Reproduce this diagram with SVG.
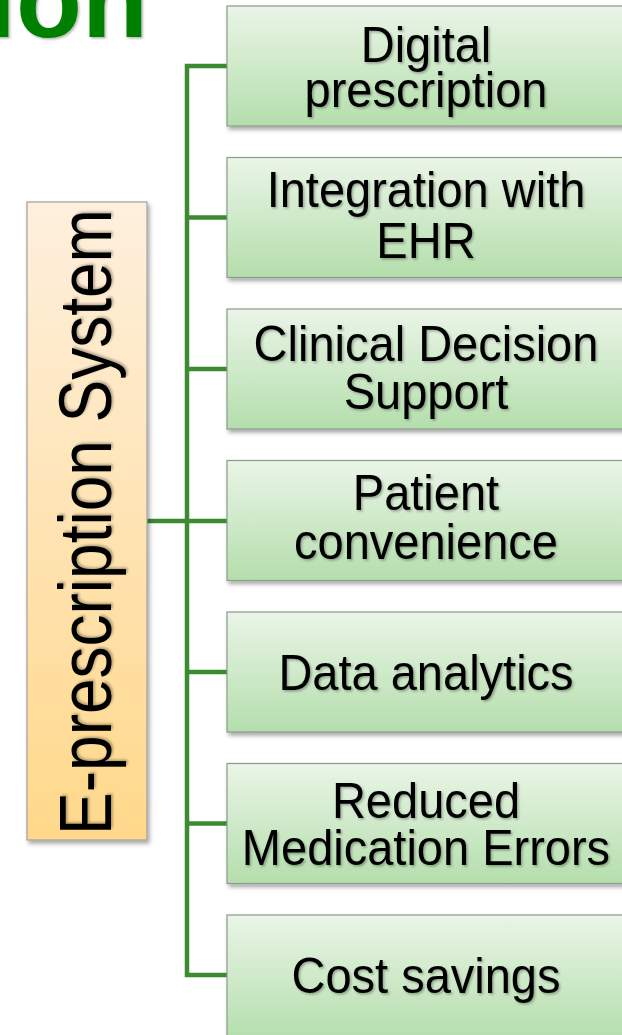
<svg xmlns="http://www.w3.org/2000/svg" width="622" height="1035" viewBox="0 0 622 1035">
<defs>
<linearGradient id="gG" x1="0" y1="0" x2="0" y2="1">
<stop offset="0" stop-color="#EAF5E7"/>
<stop offset="1" stop-color="#B4DEAC"/>
</linearGradient>
<linearGradient id="gO" x1="0" y1="0" x2="0" y2="1">
<stop offset="0" stop-color="#FEF0DE"/>
<stop offset="1" stop-color="#FFD88A"/>
</linearGradient>
<filter id="sh" x="-10%" y="-10%" width="130%" height="130%">
<feDropShadow dx="2" dy="3" stdDeviation="2" flood-color="#000" flood-opacity="0.35"/>
</filter>
<filter id="ts" x="-5%" y="-20%" width="110%" height="150%">
<feDropShadow dx="1.5" dy="1.5" stdDeviation="1" flood-color="#000" flood-opacity="0.3"/>
</filter>
</defs>
<style>
.box{fill:url(#gG);stroke:#8C9A8A;stroke-width:1.2}
.lbl{font-family:"Liberation Sans",Arial,sans-serif;font-size:47px;fill:#000;text-anchor:middle}
.con{fill:none;stroke:#3C8A32;stroke-width:4.5}
</style>
<rect width="622" height="1035" fill="#fff"/>
<g id="title">
<text x="148" y="37" font-family="Liberation Sans,Arial,sans-serif" font-weight="bold" font-size="108" fill="#008000" text-anchor="end" filter="url(#ts)">ion</text>
</g>
<g id="connectors">
<path class="con" d="M147,521 H187 M227,66 H187 V975 H227 M187,217.5 H227 M187,369 H227 M187,521 H227 M187,672 H227 M187,823.5 H227"/>
</g>
<g id="root">
<rect x="27" y="202" width="120" height="638" fill="url(#gO)" stroke="#A0A0A0" stroke-width="1.2" filter="url(#sh)"/>
<g transform="translate(111,522) rotate(-90) scale(1,1.15)">
<text x="0" y="0" font-family="Liberation Sans,Arial,sans-serif" font-size="64" text-anchor="middle" fill="#000" filter="url(#ts)">E-prescription System</text>
</g>
</g>
<g id="n1">
<rect class="box" x="227" y="6" width="410" height="120" filter="url(#sh)"/>
<g transform="translate(0,66) scale(1,1.06) translate(0,-66)">
<text class="lbl" filter="url(#ts)"><tspan x="426" y="62">Digital</tspan><tspan x="426" y="105">prescription</tspan></text>
</g>
</g>
<g id="n2">
<rect class="box" x="227" y="157.5" width="410" height="120" filter="url(#sh)"/>
<g transform="translate(0,217.5) scale(1,1.06) translate(0,-217.5)">
<text class="lbl" filter="url(#ts)"><tspan x="426" y="208">Integration with</tspan><tspan x="426" y="256">EHR</tspan></text>
</g>
</g>
<g id="n3">
<rect class="box" x="227" y="309" width="410" height="120" filter="url(#sh)"/>
<g transform="translate(0,369) scale(1,1.06) translate(0,-369)">
<text class="lbl" filter="url(#ts)"><tspan x="426" y="361">Clinical Decision</tspan><tspan x="426" y="407">Support</tspan></text>
</g>
</g>
<g id="n4">
<rect class="box" x="227" y="460.5" width="410" height="120" filter="url(#sh)"/>
<g transform="translate(0,520.5) scale(1,1.06) translate(0,-520.5)">
<text class="lbl" filter="url(#ts)"><tspan x="426" y="511">Patient</tspan><tspan x="426" y="557">convenience</tspan></text>
</g>
</g>
<g id="n5">
<rect class="box" x="227" y="612" width="410" height="120" filter="url(#sh)"/>
<g transform="translate(0,672) scale(1,1.06) translate(0,-672)">
<text class="lbl" filter="url(#ts)" x="426" y="689">Data analytics</text>
</g>
</g>
<g id="n6">
<rect class="box" x="227" y="763.5" width="410" height="120" filter="url(#sh)"/>
<g transform="translate(0,823.5) scale(1,1.06) translate(0,-823.5)">
<text class="lbl" filter="url(#ts)"><tspan x="426" y="818">Reduced</tspan><tspan x="426" y="863">Medication Errors</tspan></text>
</g>
</g>
<g id="n7">
<rect class="box" x="227" y="915" width="410" height="125" filter="url(#sh)"/>
<g transform="translate(0,975) scale(1,1.06) translate(0,-975)">
<text class="lbl" filter="url(#ts)" x="426" y="992">Cost savings</text>
</g>
</g>
</svg>
